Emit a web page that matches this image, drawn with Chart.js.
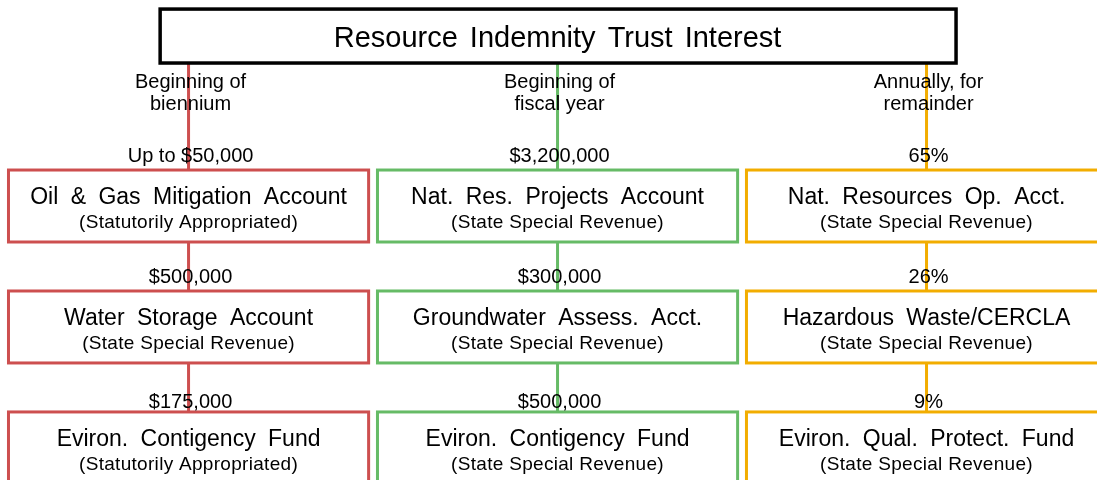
<!DOCTYPE html>
<html>
<head>
<meta charset="utf-8">
<script src="https://cdn.jsdelivr.net/npm/chart.js@4.4.0/dist/chart.umd.min.js"></script>
<style>
  html, body { margin: 0; padding: 0; background: #ffffff; }
  #wrap { width: 1097px; height: 480px; }
</style>
</head>
<body>
<div id="wrap"><canvas id="flowChart" width="1097" height="480"></canvas></div>
<script>
const sourceName = "Resource Indemnity Trust Interest";
const schedules = [["Beginning of", "biennium"], ["Beginning of", "fiscal year"], ["Annually, for", "remainder"]];
const allocations = [
    ["Up to $50,000", "$500,000", "$175,000"],
    ["$3,200,000", "$300,000", "$500,000"],
    ["65%", "26%", "9%"]
];
const accountNames = [
    ["Oil & Gas Mitigation Account", "Water Storage Account", "Eviron. Contigency Fund"],
    ["Nat. Res. Projects Account", "Groundwater Assess. Acct.", "Eviron. Contigency Fund"],
    ["Nat. Resources Op. Acct.", "Hazardous Waste/CERCLA", "Eviron. Qual. Protect. Fund"]
];
const fundTypes = [
    ["(Statutorily Appropriated)", "(State Special Revenue)", "(Statutorily Appropriated)"],
    ["(State Special Revenue)", "(State Special Revenue)", "(State Special Revenue)"],
    ["(State Special Revenue)", "(State Special Revenue)", "(State Special Revenue)"]
];
const streamColors = ["#cd4f4f", "#66bb66", "#f2ad00"];

// layout, in scale units (one unit per column, one unit per row)
const xMin = -0.511, xMax = 2.462;
const yMin = -1.703, yMax = 2.265;
const boxW = 0.976, boxH = 0.595;
const srcBox = { left: -0.077, right: 2.08, top: -1.628, bottom: -1.182 };
const fontFamily = '"Liberation Sans", Arial, sans-serif';

function drawText(ctx, str, cx, cy, size, spacing, wordGap) {
    ctx.font = size + "px " + fontFamily;
    ctx.letterSpacing = (spacing || 0) + "px";
    ctx.wordSpacing = (wordGap || 0) + "px";
    ctx.fillStyle = "#000000";
    ctx.textAlign = "center";
    ctx.textBaseline = "middle";
    ctx.fillText(str, cx, cy);
}

const flowBoxes = {
    id: "flowBoxes",
    afterDatasetsDraw(chart) {
        const { ctx, scales: { x, y } } = chart;
        ctx.save();

        // source box at the top
        const sl = x.getPixelForValue(srcBox.left), sr = x.getPixelForValue(srcBox.right);
        const st = y.getPixelForValue(srcBox.top), sb = y.getPixelForValue(srcBox.bottom);
        ctx.fillStyle = "#ffffff";
        ctx.fillRect(sl, st, sr - sl, sb - st);
        ctx.lineWidth = 3.5;
        ctx.strokeStyle = "#000000";
        ctx.strokeRect(sl, st, sr - sl, sb - st);
        drawText(ctx, sourceName, x.getPixelForValue(1), (st + sb) / 2 + 3, 29, 0, 4);

        schedules.forEach((lines, col) => {
            const cx = x.getPixelForValue(col);
            drawText(ctx, lines[0], cx + 2, y.getPixelForValue(-1.02), 20);
            drawText(ctx, lines[1], cx + 2, y.getPixelForValue(-0.84), 20);

            accountNames[col].forEach((name, row) => {
                const left = x.getPixelForValue(col - boxW / 2);
                const right = x.getPixelForValue(col + boxW / 2);
                const top = y.getPixelForValue(row - boxH / 2);
                const bottom = y.getPixelForValue(row + boxH / 2);
                ctx.fillStyle = "#ffffff";
                ctx.fillRect(left, top, right - left, bottom - top);
                ctx.lineWidth = 3;
                ctx.strokeStyle = streamColors[col];
                ctx.strokeRect(left, top, right - left, bottom - top);

                drawText(ctx, allocations[col][row], cx + 2, y.getPixelForValue(row - boxH / 2 - (row === 2 ? 0.08 : 0.115)), 20);
                drawText(ctx, name, (left + right) / 2, y.getPixelForValue(row - 0.07), 23, 0, 6);
                drawText(ctx, fundTypes[col][row], (left + right) / 2, y.getPixelForValue(row + 0.135), 19, 0.3);
            });
        });
        ctx.restore();
    }
};

const streamLines = streamColors.map((color, col) => ({
    data: [{ x: col, y: srcBox.bottom }, { x: col, y: yMax }],
    showLine: true,
    borderColor: color,
    borderWidth: 3,
    pointRadius: 0
}));

new Chart(document.getElementById("flowChart").getContext("2d"), {
    type: "scatter",
    data: { datasets: streamLines },
    options: {
        responsive: false,
        animation: false,
        events: [],
        layout: { padding: 0 },
        plugins: { legend: { display: false }, tooltip: { enabled: false } },
        scales: {
            x: { type: "linear", min: xMin, max: xMax, display: false },
            y: { type: "linear", min: yMin, max: yMax, reverse: true, display: false }
        }
    },
    plugins: [flowBoxes]
});
</script>
</body>
</html>
